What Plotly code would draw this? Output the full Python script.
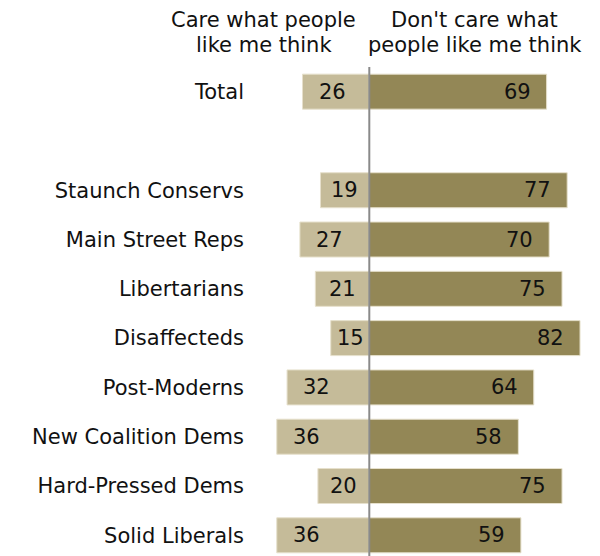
import plotly.graph_objects as go

categories = ["Total", "", "Staunch Conservs", "Main Street Reps", "Libertarians",
              "Disaffecteds", "Post-Moderns", "New Coalition Dems",
              "Hard-Pressed Dems", "Solid Liberals"]
care = [26, None, 19, 27, 21, 15, 32, 36, 20, 36]
dont_care = [69, None, 77, 70, 75, 82, 64, 58, 75, 59]
header_left = ["Care what people", "like me think"]
header_right = ["Don't care what", "people like me think"]

LIGHT = "#C5BB99"
DARK = "#938756"
FONT = "DejaVu Sans"
FS = 21

ypos = list(range(len(categories)))

fig = go.Figure()
fig.add_trace(go.Bar(
    y=ypos, x=[-v if v is not None else None for v in care], orientation="h",
    marker=dict(color=LIGHT, line=dict(color="#E6E0CC", width=1)), width=0.71,
    hoverinfo="skip", showlegend=False))
fig.add_trace(go.Bar(
    y=ypos, x=dont_care, orientation="h",
    marker=dict(color=DARK, line=dict(color="#E6E0CC", width=1)), width=0.71,
    hoverinfo="skip", showlegend=False))

annotations = []
for i, (c, d) in enumerate(zip(care, dont_care)):
    if c is not None:
        annotations.append(dict(x=-max(c / 2, c - 11.5), y=i, xref="x", yref="y",
                                text=str(c), showarrow=False, xanchor="center",
                                font=dict(family=FONT, size=FS, color="#111")))
    if d is not None:
        annotations.append(dict(x=max(d / 2, d - 11.5), y=i, xref="x", yref="y",
                                text=str(d), showarrow=False, xanchor="center",
                                font=dict(family=FONT, size=FS, color="#111")))

for xc, lines in ((-41, header_left), (41, header_right)):
    for shift, line in zip((47, 22), lines):
        annotations.append(dict(x=xc, y=1.0, xref="x", yref="paper", yanchor="middle",
                                yshift=shift, text=line, showarrow=False,
                                xanchor="center",
                                font=dict(family=FONT, size=FS, color="#111")))

fig.update_layout(
    width=600, height=556,
    margin=dict(l=250, r=0, t=67, b=0),
    paper_bgcolor="white", plot_bgcolor="white",
    barmode="overlay",
    xaxis=dict(range=[-46.42, 89.77], visible=False, fixedrange=True),
    yaxis=dict(range=[9.42, -0.5], tickvals=ypos, ticktext=categories,
               showgrid=False, zeroline=False, showline=False, ticks="",
               ticklabelstandoff=5, fixedrange=True,
               tickfont=dict(family=FONT, size=FS, color="#111")),
    annotations=annotations,
    shapes=[dict(type="line", xref="x", yref="paper", x0=0, x1=0, y0=0, y1=1,
                 line=dict(color="#8A8A8A", width=2))],
)

fig.write_html("out.html", config={"displayModeBar": False},
               post_script="document.body.style.margin='0px';")
